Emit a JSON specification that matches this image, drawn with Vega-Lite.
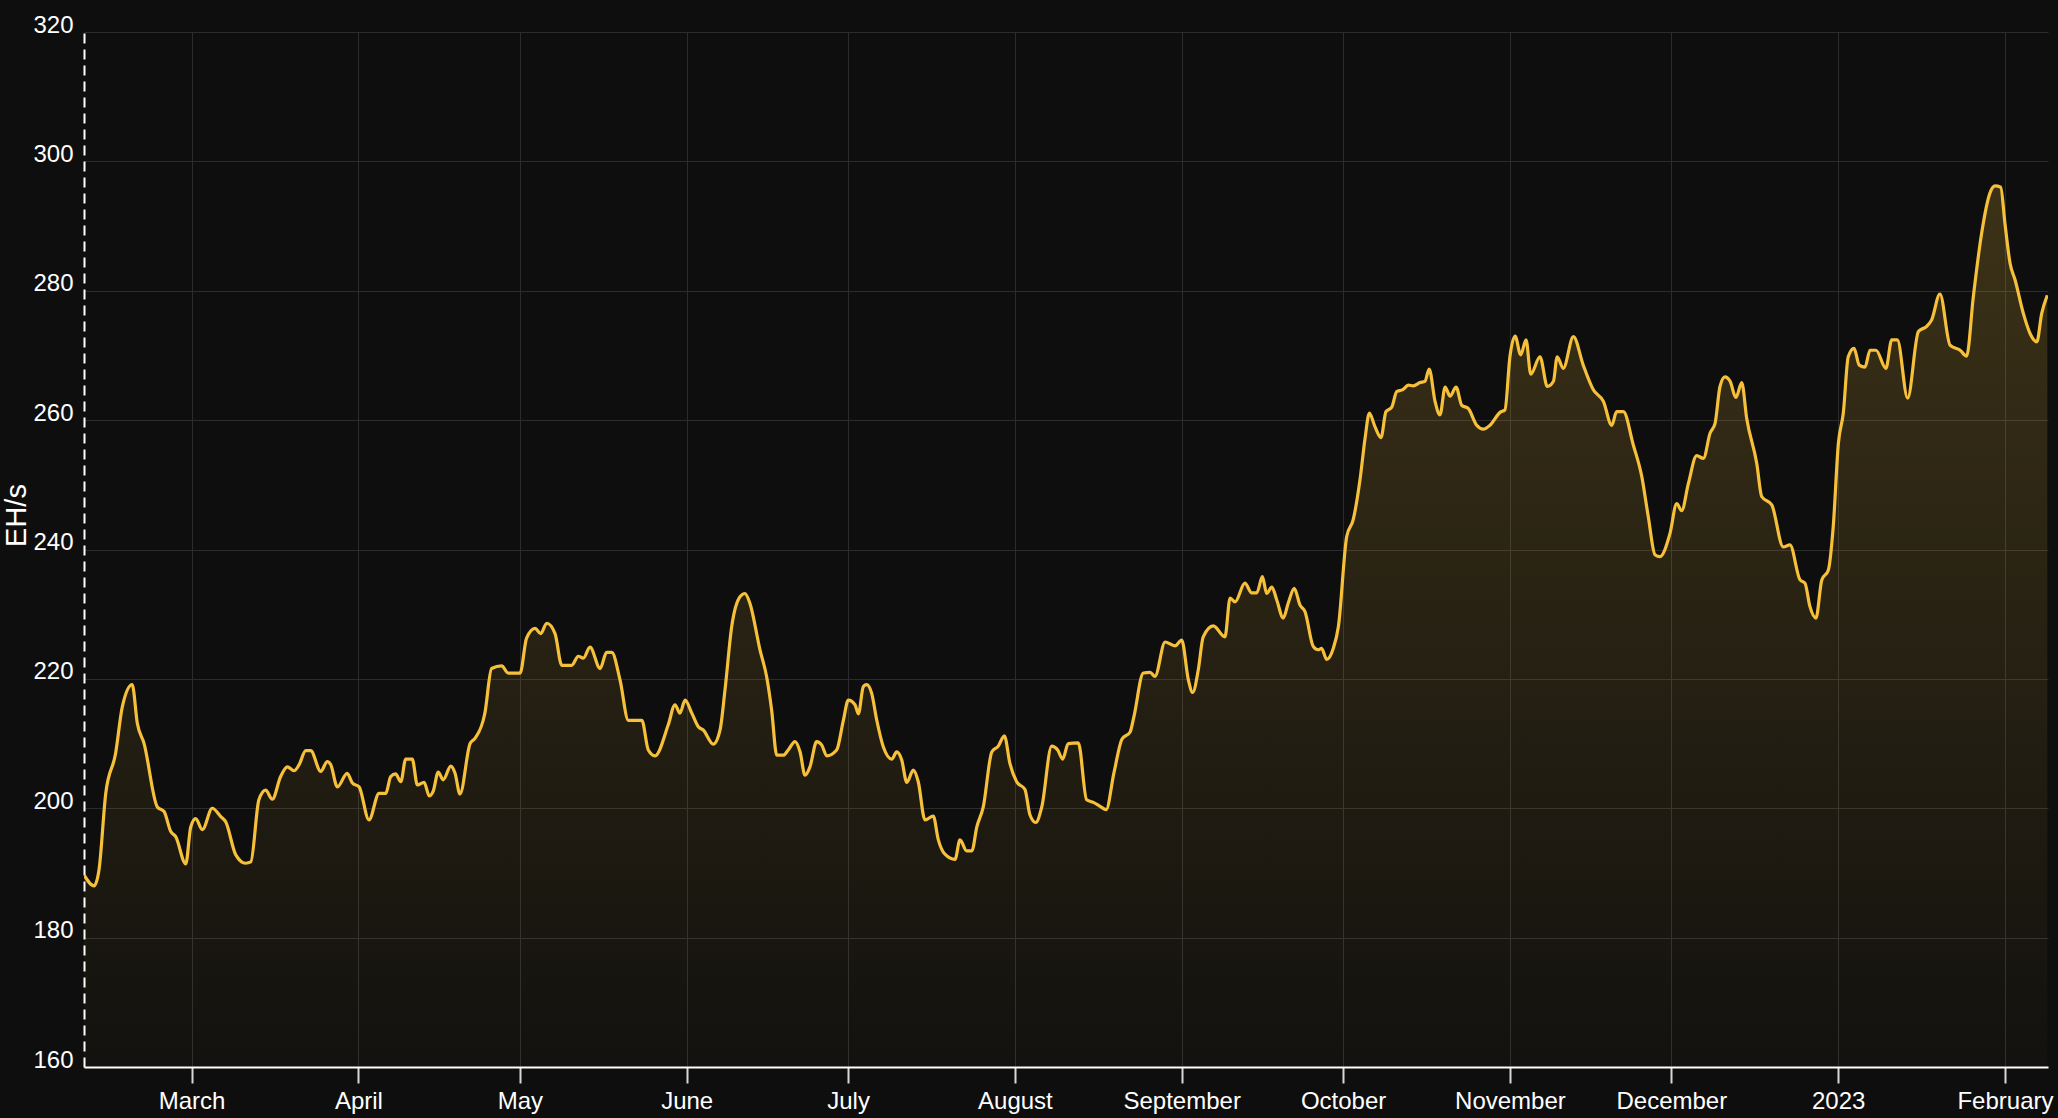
{
  "$schema": "https://vega.github.io/schema/vega-lite/v6.json",
  "width": 1964,
  "height": 1035,
  "autosize": {"type": "none"},
  "padding": {"left": 84, "top": 32, "right": 10, "bottom": 51},
  "background": "#0e0e0e",
  "config": {
    "view": {"stroke": null},
    "font": "Liberation Sans"
  },
  "data": {"values": [
    {"date": "2022-02-09T00:00", "ehs": 189.7},
    {"date": "2022-02-10T21:00", "ehs": 188.0},
    {"date": "2022-02-11T19:00", "ehs": 190.5},
    {"date": "2022-02-13T01:00", "ehs": 202.3},
    {"date": "2022-02-14T21:00", "ehs": 208.5},
    {"date": "2022-02-16T03:00", "ehs": 215.7},
    {"date": "2022-02-17T23:00", "ehs": 219.1},
    {"date": "2022-02-18T22:00", "ehs": 213.1},
    {"date": "2022-02-20T04:00", "ehs": 210.0},
    {"date": "2022-02-22T15:00", "ehs": 200.2},
    {"date": "2022-02-23T21:00", "ehs": 199.5},
    {"date": "2022-02-25T03:00", "ehs": 196.4},
    {"date": "2022-02-26T01:00", "ehs": 195.6},
    {"date": "2022-02-27T22:00", "ehs": 191.4},
    {"date": "2022-02-28T20:00", "ehs": 197.1},
    {"date": "2022-03-01T18:00", "ehs": 198.4},
    {"date": "2022-03-03T00:00", "ehs": 196.7},
    {"date": "2022-03-04T20:00", "ehs": 200.0},
    {"date": "2022-03-06T10:00", "ehs": 198.7},
    {"date": "2022-03-07T08:00", "ehs": 197.9},
    {"date": "2022-03-09T05:00", "ehs": 192.8},
    {"date": "2022-03-11T01:00", "ehs": 191.5},
    {"date": "2022-03-12T00:00", "ehs": 191.7},
    {"date": "2022-03-13T12:00", "ehs": 201.3},
    {"date": "2022-03-14T18:00", "ehs": 202.8},
    {"date": "2022-03-16T00:00", "ehs": 201.4},
    {"date": "2022-03-17T13:00", "ehs": 204.9},
    {"date": "2022-03-18T19:00", "ehs": 206.4},
    {"date": "2022-03-20T01:00", "ehs": 205.8},
    {"date": "2022-03-20T23:00", "ehs": 206.7},
    {"date": "2022-03-22T05:00", "ehs": 208.9},
    {"date": "2022-03-23T03:00", "ehs": 208.9},
    {"date": "2022-03-25T00:00", "ehs": 205.7},
    {"date": "2022-03-26T05:00", "ehs": 207.2},
    {"date": "2022-03-26T20:00", "ehs": 206.8},
    {"date": "2022-03-28T02:00", "ehs": 203.3},
    {"date": "2022-03-29T22:00", "ehs": 205.4},
    {"date": "2022-03-30T21:00", "ehs": 203.9},
    {"date": "2022-04-01T03:00", "ehs": 203.3},
    {"date": "2022-04-02T23:00", "ehs": 198.2},
    {"date": "2022-04-04T20:00", "ehs": 202.3},
    {"date": "2022-04-06T02:00", "ehs": 202.3},
    {"date": "2022-04-07T00:00", "ehs": 204.9},
    {"date": "2022-04-07T22:00", "ehs": 205.3},
    {"date": "2022-04-08T21:00", "ehs": 204.1},
    {"date": "2022-04-09T19:00", "ehs": 207.6},
    {"date": "2022-04-11T00:00", "ehs": 207.6},
    {"date": "2022-04-11T23:00", "ehs": 203.6},
    {"date": "2022-04-13T05:00", "ehs": 204.0},
    {"date": "2022-04-14T04:00", "ehs": 201.9},
    {"date": "2022-04-14T22:00", "ehs": 202.7},
    {"date": "2022-04-15T20:00", "ehs": 205.6},
    {"date": "2022-04-16T18:00", "ehs": 204.4},
    {"date": "2022-04-18T04:00", "ehs": 206.5},
    {"date": "2022-04-18T23:00", "ehs": 205.4},
    {"date": "2022-04-19T21:00", "ehs": 202.2},
    {"date": "2022-04-21T18:00", "ehs": 210.0},
    {"date": "2022-04-22T16:00", "ehs": 210.8},
    {"date": "2022-04-24T12:00", "ehs": 214.7},
    {"date": "2022-04-25T18:00", "ehs": 221.6},
    {"date": "2022-04-27T15:00", "ehs": 222.0},
    {"date": "2022-04-28T20:00", "ehs": 220.9},
    {"date": "2022-05-01T01:00", "ehs": 220.9},
    {"date": "2022-05-02T06:00", "ehs": 226.3},
    {"date": "2022-05-03T20:00", "ehs": 227.8},
    {"date": "2022-05-04T21:00", "ehs": 227.0},
    {"date": "2022-05-06T00:00", "ehs": 228.6},
    {"date": "2022-05-07T13:00", "ehs": 227.0},
    {"date": "2022-05-08T19:00", "ehs": 222.1},
    {"date": "2022-05-10T15:00", "ehs": 222.1},
    {"date": "2022-05-11T21:00", "ehs": 223.5},
    {"date": "2022-05-12T19:00", "ehs": 223.2},
    {"date": "2022-05-14T01:00", "ehs": 224.9},
    {"date": "2022-05-15T22:00", "ehs": 221.6},
    {"date": "2022-05-17T03:00", "ehs": 224.1},
    {"date": "2022-05-18T02:00", "ehs": 224.1},
    {"date": "2022-05-19T15:00", "ehs": 219.8},
    {"date": "2022-05-21T04:00", "ehs": 213.6},
    {"date": "2022-05-22T10:00", "ehs": 213.6},
    {"date": "2022-05-23T16:00", "ehs": 213.6},
    {"date": "2022-05-24T21:00", "ehs": 209.0},
    {"date": "2022-05-26T03:00", "ehs": 208.1},
    {"date": "2022-05-28T14:00", "ehs": 212.9},
    {"date": "2022-05-29T20:00", "ehs": 216.0},
    {"date": "2022-05-30T18:00", "ehs": 214.7},
    {"date": "2022-05-31T17:00", "ehs": 216.7},
    {"date": "2022-06-01T23:00", "ehs": 214.7},
    {"date": "2022-06-03T04:00", "ehs": 212.6},
    {"date": "2022-06-04T02:00", "ehs": 212.1},
    {"date": "2022-06-05T23:00", "ehs": 209.9},
    {"date": "2022-06-07T05:00", "ehs": 212.1},
    {"date": "2022-06-08T03:00", "ehs": 218.3},
    {"date": "2022-06-09T09:00", "ehs": 228.1},
    {"date": "2022-06-10T22:00", "ehs": 232.7},
    {"date": "2022-06-11T20:00", "ehs": 233.2},
    {"date": "2022-06-12T18:00", "ehs": 231.7},
    {"date": "2022-06-14T15:00", "ehs": 224.5},
    {"date": "2022-06-15T21:00", "ehs": 220.3},
    {"date": "2022-06-16T19:00", "ehs": 215.2},
    {"date": "2022-06-17T18:00", "ehs": 208.2},
    {"date": "2022-06-18T23:00", "ehs": 208.2},
    {"date": "2022-06-19T21:00", "ehs": 209.0},
    {"date": "2022-06-21T03:00", "ehs": 210.3},
    {"date": "2022-06-22T02:00", "ehs": 208.7},
    {"date": "2022-06-23T00:00", "ehs": 205.1},
    {"date": "2022-06-23T22:00", "ehs": 206.4},
    {"date": "2022-06-25T04:00", "ehs": 210.3},
    {"date": "2022-06-26T02:00", "ehs": 209.8},
    {"date": "2022-06-27T01:00", "ehs": 208.1},
    {"date": "2022-06-28T21:00", "ehs": 209.0},
    {"date": "2022-06-30T03:00", "ehs": 213.6},
    {"date": "2022-07-01T01:00", "ehs": 216.7},
    {"date": "2022-07-02T07:00", "ehs": 216.0},
    {"date": "2022-07-02T22:00", "ehs": 214.6},
    {"date": "2022-07-03T20:00", "ehs": 218.8},
    {"date": "2022-07-04T11:00", "ehs": 219.1},
    {"date": "2022-07-05T09:00", "ehs": 217.8},
    {"date": "2022-07-06T08:00", "ehs": 213.6},
    {"date": "2022-07-07T13:00", "ehs": 209.5},
    {"date": "2022-07-09T03:00", "ehs": 207.6},
    {"date": "2022-07-10T01:00", "ehs": 208.7},
    {"date": "2022-07-10T23:00", "ehs": 207.5},
    {"date": "2022-07-11T22:00", "ehs": 204.0},
    {"date": "2022-07-13T03:00", "ehs": 205.9},
    {"date": "2022-07-14T01:00", "ehs": 204.1},
    {"date": "2022-07-15T07:00", "ehs": 198.2},
    {"date": "2022-07-16T20:00", "ehs": 198.8},
    {"date": "2022-07-17T18:00", "ehs": 195.2},
    {"date": "2022-07-19T00:00", "ehs": 192.9},
    {"date": "2022-07-20T21:00", "ehs": 192.1},
    {"date": "2022-07-21T19:00", "ehs": 195.1},
    {"date": "2022-07-23T01:00", "ehs": 193.4},
    {"date": "2022-07-24T00:00", "ehs": 193.4},
    {"date": "2022-07-24T22:00", "ehs": 197.1},
    {"date": "2022-07-26T03:00", "ehs": 200.2},
    {"date": "2022-07-27T17:00", "ehs": 208.7},
    {"date": "2022-07-28T22:00", "ehs": 209.6},
    {"date": "2022-07-30T01:00", "ehs": 211.2},
    {"date": "2022-07-31T02:00", "ehs": 206.9},
    {"date": "2022-08-01T08:00", "ehs": 204.1},
    {"date": "2022-08-02T21:00", "ehs": 202.9},
    {"date": "2022-08-03T19:00", "ehs": 199.0},
    {"date": "2022-08-04T21:00", "ehs": 197.8},
    {"date": "2022-08-06T00:00", "ehs": 200.2},
    {"date": "2022-08-07T20:00", "ehs": 209.6},
    {"date": "2022-08-08T23:00", "ehs": 209.0},
    {"date": "2022-08-09T21:00", "ehs": 207.6},
    {"date": "2022-08-10T22:00", "ehs": 210.0},
    {"date": "2022-08-12T19:00", "ehs": 210.1},
    {"date": "2022-08-14T08:00", "ehs": 201.3},
    {"date": "2022-08-15T14:00", "ehs": 200.9},
    {"date": "2022-08-16T20:00", "ehs": 200.3},
    {"date": "2022-08-17T23:00", "ehs": 199.8},
    {"date": "2022-08-19T10:00", "ehs": 205.5},
    {"date": "2022-08-20T22:00", "ehs": 210.7},
    {"date": "2022-08-22T10:00", "ehs": 211.8},
    {"date": "2022-08-23T02:00", "ehs": 214.0},
    {"date": "2022-08-24T21:00", "ehs": 220.9},
    {"date": "2022-08-26T03:00", "ehs": 221.0},
    {"date": "2022-08-27T01:00", "ehs": 220.4},
    {"date": "2022-08-28T22:00", "ehs": 225.7},
    {"date": "2022-08-30T18:00", "ehs": 225.1},
    {"date": "2022-09-01T00:00", "ehs": 226.0},
    {"date": "2022-09-02T06:00", "ehs": 219.8},
    {"date": "2022-09-03T01:00", "ehs": 217.9},
    {"date": "2022-09-04T02:00", "ehs": 221.4},
    {"date": "2022-09-05T00:00", "ehs": 226.5},
    {"date": "2022-09-06T21:00", "ehs": 228.2},
    {"date": "2022-09-09T01:00", "ehs": 226.5},
    {"date": "2022-09-10T00:00", "ehs": 232.5},
    {"date": "2022-09-10T22:00", "ehs": 231.9},
    {"date": "2022-09-12T18:00", "ehs": 234.8},
    {"date": "2022-09-14T00:00", "ehs": 233.3},
    {"date": "2022-09-14T23:00", "ehs": 233.3},
    {"date": "2022-09-16T00:00", "ehs": 235.8},
    {"date": "2022-09-16T19:00", "ehs": 233.2},
    {"date": "2022-09-17T18:00", "ehs": 234.2},
    {"date": "2022-09-18T16:00", "ehs": 232.2},
    {"date": "2022-09-19T21:00", "ehs": 229.4},
    {"date": "2022-09-20T20:00", "ehs": 231.8},
    {"date": "2022-09-21T22:00", "ehs": 234.0},
    {"date": "2022-09-23T00:00", "ehs": 231.4},
    {"date": "2022-09-23T22:00", "ehs": 230.4},
    {"date": "2022-09-25T11:00", "ehs": 225.0},
    {"date": "2022-09-26T09:00", "ehs": 224.5},
    {"date": "2022-09-27T00:00", "ehs": 224.7},
    {"date": "2022-09-27T23:00", "ehs": 223.0},
    {"date": "2022-09-29T04:00", "ehs": 224.7},
    {"date": "2022-09-30T03:00", "ehs": 228.1},
    {"date": "2022-10-01T16:00", "ehs": 242.0},
    {"date": "2022-10-02T21:00", "ehs": 244.6},
    {"date": "2022-10-04T03:00", "ehs": 250.7},
    {"date": "2022-10-05T02:00", "ehs": 257.2},
    {"date": "2022-10-05T21:00", "ehs": 261.1},
    {"date": "2022-10-06T22:00", "ehs": 259.0},
    {"date": "2022-10-08T01:00", "ehs": 257.3},
    {"date": "2022-10-08T23:00", "ehs": 261.3},
    {"date": "2022-10-10T01:00", "ehs": 262.0},
    {"date": "2022-10-10T23:00", "ehs": 264.4},
    {"date": "2022-10-12T02:00", "ehs": 264.7},
    {"date": "2022-10-13T03:00", "ehs": 265.4},
    {"date": "2022-10-14T01:00", "ehs": 265.3},
    {"date": "2022-10-15T07:00", "ehs": 265.8},
    {"date": "2022-10-16T05:00", "ehs": 266.0},
    {"date": "2022-10-17T00:00", "ehs": 267.9},
    {"date": "2022-10-18T02:00", "ehs": 262.9},
    {"date": "2022-10-19T00:00", "ehs": 260.8},
    {"date": "2022-10-19T23:00", "ehs": 265.1},
    {"date": "2022-10-20T21:00", "ehs": 263.7},
    {"date": "2022-10-22T00:00", "ehs": 265.1},
    {"date": "2022-10-23T01:00", "ehs": 262.3},
    {"date": "2022-10-24T06:00", "ehs": 261.8},
    {"date": "2022-10-25T20:00", "ehs": 259.2},
    {"date": "2022-10-27T01:00", "ehs": 258.6},
    {"date": "2022-10-28T07:00", "ehs": 259.2},
    {"date": "2022-10-30T04:00", "ehs": 261.2},
    {"date": "2022-10-31T02:00", "ehs": 261.6},
    {"date": "2022-11-01T00:00", "ehs": 269.8},
    {"date": "2022-11-01T23:00", "ehs": 273.0},
    {"date": "2022-11-03T00:00", "ehs": 270.1},
    {"date": "2022-11-04T00:00", "ehs": 272.4},
    {"date": "2022-11-04T21:00", "ehs": 267.1},
    {"date": "2022-11-06T14:00", "ehs": 269.8},
    {"date": "2022-11-07T23:00", "ehs": 265.2},
    {"date": "2022-11-09T02:00", "ehs": 266.0},
    {"date": "2022-11-09T19:00", "ehs": 269.8},
    {"date": "2022-11-10T22:00", "ehs": 268.0},
    {"date": "2022-11-12T19:00", "ehs": 272.9},
    {"date": "2022-11-14T15:00", "ehs": 268.5},
    {"date": "2022-11-16T12:00", "ehs": 264.7},
    {"date": "2022-11-18T09:00", "ehs": 262.9},
    {"date": "2022-11-19T22:00", "ehs": 259.2},
    {"date": "2022-11-20T20:00", "ehs": 261.3},
    {"date": "2022-11-22T02:00", "ehs": 261.3},
    {"date": "2022-11-23T22:00", "ehs": 256.2},
    {"date": "2022-11-25T12:00", "ehs": 251.3},
    {"date": "2022-11-26T17:00", "ehs": 245.1},
    {"date": "2022-11-27T23:00", "ehs": 239.2},
    {"date": "2022-11-28T21:00", "ehs": 238.9},
    {"date": "2022-11-30T18:00", "ehs": 242.5},
    {"date": "2022-12-02T00:00", "ehs": 247.1},
    {"date": "2022-12-02T22:00", "ehs": 246.0},
    {"date": "2022-12-04T04:00", "ehs": 250.2},
    {"date": "2022-12-05T17:00", "ehs": 254.5},
    {"date": "2022-12-06T23:00", "ehs": 254.1},
    {"date": "2022-12-08T05:00", "ehs": 258.0},
    {"date": "2022-12-09T03:00", "ehs": 259.5},
    {"date": "2022-12-10T01:00", "ehs": 265.2},
    {"date": "2022-12-10T23:00", "ehs": 266.7},
    {"date": "2022-12-11T22:00", "ehs": 266.0},
    {"date": "2022-12-13T00:00", "ehs": 263.5},
    {"date": "2022-12-14T02:00", "ehs": 265.8},
    {"date": "2022-12-15T00:00", "ehs": 260.3},
    {"date": "2022-12-16T21:00", "ehs": 253.3},
    {"date": "2022-12-17T19:00", "ehs": 248.2},
    {"date": "2022-12-19T16:00", "ehs": 246.9},
    {"date": "2022-12-21T19:00", "ehs": 240.4},
    {"date": "2022-12-23T01:00", "ehs": 240.7},
    {"date": "2022-12-24T22:00", "ehs": 235.3},
    {"date": "2022-12-25T20:00", "ehs": 234.8},
    {"date": "2022-12-26T18:00", "ehs": 231.2},
    {"date": "2022-12-27T21:00", "ehs": 229.4},
    {"date": "2022-12-28T23:00", "ehs": 235.3},
    {"date": "2022-12-30T04:00", "ehs": 236.8},
    {"date": "2022-12-31T02:00", "ehs": 243.5},
    {"date": "2023-01-01T01:00", "ehs": 256.4},
    {"date": "2023-01-01T23:00", "ehs": 261.1},
    {"date": "2023-01-02T21:00", "ehs": 269.8},
    {"date": "2023-01-03T23:00", "ehs": 271.1},
    {"date": "2023-01-04T22:00", "ehs": 268.5},
    {"date": "2023-01-06T00:00", "ehs": 268.2},
    {"date": "2023-01-06T22:00", "ehs": 270.8},
    {"date": "2023-01-08T01:00", "ehs": 270.8},
    {"date": "2023-01-09T21:00", "ehs": 268.0},
    {"date": "2023-01-10T23:00", "ehs": 272.4},
    {"date": "2023-01-12T00:00", "ehs": 272.4},
    {"date": "2023-01-13T22:00", "ehs": 263.4},
    {"date": "2023-01-15T22:00", "ehs": 273.7},
    {"date": "2023-01-17T11:00", "ehs": 274.5},
    {"date": "2023-01-18T09:00", "ehs": 275.5},
    {"date": "2023-01-19T22:00", "ehs": 279.5},
    {"date": "2023-01-21T19:00", "ehs": 271.6},
    {"date": "2023-01-23T16:00", "ehs": 270.8},
    {"date": "2023-01-24T21:00", "ehs": 269.9},
    {"date": "2023-01-26T03:00", "ehs": 279.1},
    {"date": "2023-01-27T16:00", "ehs": 288.9},
    {"date": "2023-01-29T05:00", "ehs": 295.1},
    {"date": "2023-01-30T04:00", "ehs": 296.2},
    {"date": "2023-01-31T05:00", "ehs": 296.0},
    {"date": "2023-02-01T00:00", "ehs": 290.4},
    {"date": "2023-02-01T23:00", "ehs": 284.2},
    {"date": "2023-02-02T21:00", "ehs": 281.7},
    {"date": "2023-02-04T10:00", "ehs": 276.5},
    {"date": "2023-02-05T16:00", "ehs": 273.4},
    {"date": "2023-02-06T22:00", "ehs": 272.1},
    {"date": "2023-02-07T20:00", "ehs": 276.5},
    {"date": "2023-02-08T21:00", "ehs": 279.3}
  ]},
  "encoding": {
    "x": {
      "field": "date",
      "type": "temporal",
      "scale": {"domain": ["2022-02-09T00:00", "2023-02-09T00:00"]},
      "axis": {
        "title": null,
        "tickCount": {"interval": "month", "step": 1},
        "grid": true,
        "gridColor": "#2c2c2c",
        "gridWidth": 1,
        "domainColor": "#ffffff",
        "domainWidth": 2,
        "tickColor": "#d8d8d8",
        "tickWidth": 2,
        "tickSize": 16,
        "labelColor": "#ffffff",
        "labelFontSize": 24,
        "labelFont": "Liberation Sans",
        "labelPadding": 6,
        "labelFlush": false,
        "labelOverlap": false
      }
    },
    "y": {
      "field": "ehs",
      "type": "quantitative",
      "scale": {"domain": [160, 320], "nice": false, "zero": false},
      "axis": {
        "title": "EH/s",
        "values": [160, 180, 200, 220, 240, 260, 280, 300, 320],
        "grid": true,
        "gridColor": "#2c2c2c",
        "gridWidth": 1,
        "domainColor": "#ffffff",
        "domainWidth": 2,
        "domainDash": [10, 6],
        "ticks": false,
        "labelColor": "#ffffff",
        "labelFontSize": 24,
        "labelFont": "Liberation Sans",
        "labelPadding": 11,
        "labelBaseline": "alphabetic",
        "labelFlush": false,
        "titleColor": "#ffffff",
        "titleFontSize": 29,
        "titleFont": "Liberation Sans",
        "titleFontWeight": "normal",
        "titleAngle": -90,
        "titleX": -59,
        "titleY": 483,
        "titleAlign": "center",
        "titleBaseline": "alphabetic"
      }
    }
  },
  "layer": [
    {
      "mark": {
        "type": "area",
        "interpolate": "monotone",
        "clip": true,
        "fill": {
          "gradient": "linear",
          "x1": 0, "y1": 0, "x2": 0, "y2": 1,
          "stops": [
            {"offset": 0, "color": "rgba(247,194,60,0.2)"},
            {"offset": 1, "color": "rgba(247,194,60,0.02)"}
          ]
        }
      },
      "encoding": {"y2": {"datum": 160}}
    },
    {
      "mark": {
        "type": "line",
        "interpolate": "monotone",
        "clip": true,
        "color": "#f6c03b",
        "strokeWidth": 3.2
      },
      "encoding": {}
    }
  ]
}
